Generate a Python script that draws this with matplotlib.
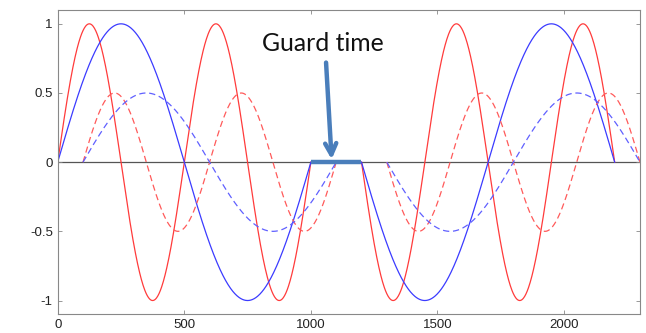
import numpy as np
import matplotlib.pyplot as plt

# Segment parameters: (start, period, amplitude, sign) — each segment is 1000 long
red_solid = [(0, 500, 1.0, 1), (1200, 500, 1.0, -1)]
blue_solid = [(0, 1000, 1.0, 1), (1200, 1000, 1.0, -1)]
red_dashed = [(100, 500, 0.5, 1), (1300, 500, 0.5, -1)]
blue_dashed = [(100, 1000, 0.5, 1), (1300, 1000, 0.5, -1)]
seg_len = 1000

guard = [1000, 1200]
xticks = [0, 500, 1000, 1500, 2000]
yticks = [-1, -0.5, 0, 0.5, 1]
ytick_labels = ["-1", "-0.5", "0", "0.5", "1"]

fig = plt.figure(figsize=(6.46, 3.33), dpi=100)
ax = fig.add_axes([0.0893, 0.056, 0.9014, 0.914])

def draw(segs, color, ls, lw=0.9):
    for start, period, amp, sign in segs:
        t = np.linspace(0, seg_len, 600)
        ax.plot(start + t, sign * amp * np.sin(2 * np.pi * t / period),
                color=color, ls=ls, lw=lw, dashes=(5, 3) if ls == '--' else (None, None))

ax.axhline(0, color='#555555', lw=0.9, zorder=1)
draw(red_solid, '#ff3b3b', '-')
draw(blue_solid, '#3b3bff', '-')
draw(red_dashed, '#ff5a5a', '--')
draw(blue_dashed, '#6060ff', '--')

ax.plot(guard, [0, 0], color='#4a7ebb', lw=3.2, solid_capstyle='butt', zorder=5)
ax.annotate('', xy=(1082, 0.02), xytext=(1060, 0.72),
            arrowprops=dict(arrowstyle='->,head_length=0.8,head_width=0.4',
                            color='#4a7ebb', lw=3.2, shrinkA=0, shrinkB=0), zorder=6)
ax.text(1048, 0.855, 'Guard time', fontsize=17.8, family='Lato',
        color='#111111', ha='center', va='center')

ax.set_xlim(0, 2300)
ax.set_ylim(-1.1, 1.1)
ax.set_xticks(xticks)
ax.set_yticks(yticks)
ax.set_yticklabels(ytick_labels)
ax.tick_params(direction='in', top=True, right=True, length=3, width=0.6,
               colors='#888888', labelcolor='#222222', labelsize=9.5)
for lab in ax.get_xticklabels() + ax.get_yticklabels():
    lab.set_family('Liberation Sans')
for s in ax.spines.values():
    s.set_color('#888888')
    s.set_linewidth(0.8)

fig.savefig('out.png', dpi=100)
